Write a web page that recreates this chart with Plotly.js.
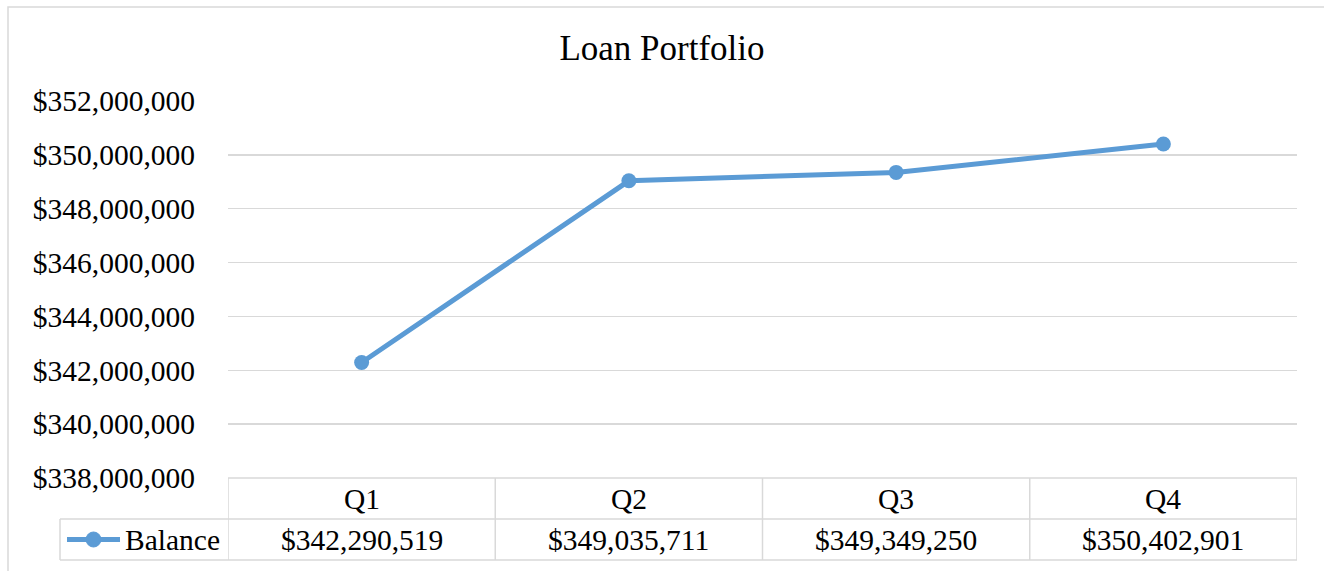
<!DOCTYPE html>
<html>
<head>
<meta charset="utf-8">
<script src="https://cdn.plot.ly/plotly-3.0.1.min.js"></script>
<style>html,body{margin:0;padding:0;background:#fff;}#chart{width:1324px;height:571px;}</style>
</head>
<body>
<div id="chart"></div>
<script>
const chartTitle = "Loan Portfolio";
const seriesName = "Balance";
const quarters = ["Q1", "Q2", "Q3", "Q4"];
const balance = [342290519, 349035711, 349349250, 350402901];
const yRange = [338000000, 352000000];
const yStep = 2000000;

const W = 1324, H = 571;
const M = {l: 228, r: 27, t: 101, b: 93};
const PW = W - M.l - M.r, PH = H - M.t - M.b;
const px = x => (x - M.l) / PW;
const py = y => 1 - (y - M.t) / PH;

const FONT = "Liberation Serif, Times New Roman, serif";
const FS = 29.5;
const BLUE = "#5b9bd5";
const GRID = "#d9d9d9";
const fmt = v => "$" + v.toLocaleString("en-US");

const shapes = [];
const annotations = [];
// chart border (extends off-canvas on right/bottom like the reference)
shapes.push({type: "rect", xref: "paper", yref: "paper", x0: px(8), x1: px(1340), y0: py(7), y1: py(590),
  line: {color: GRID, width: 1.5}, fillcolor: "rgba(0,0,0,0)", layer: "below"});

// data table
const rowTop = 478, rowMid = 519, rowBot = 560, legLeft = 60;
const n = quarters.length;
const lineStyle = {color: GRID, width: 1.5};
shapes.push({type: "line", xref: "x", yref: "paper", x0: -0.5, x1: n - 0.5, y0: py(rowTop), y1: py(rowTop), line: lineStyle});
shapes.push({type: "line", xref: "paper", yref: "paper", x0: px(legLeft), x1: 1, y0: py(rowMid), y1: py(rowMid), line: lineStyle});
shapes.push({type: "line", xref: "paper", yref: "paper", x0: px(legLeft), x1: 1, y0: py(rowBot), y1: py(rowBot), line: lineStyle});
for (let i = 0; i <= n; i++) {
  shapes.push({type: "line", xref: "x", yref: "paper", x0: i - 0.5, x1: i - 0.5, y0: py(rowTop), y1: py(rowBot), line: lineStyle});
}
shapes.push({type: "line", xref: "paper", yref: "paper", x0: px(legLeft), x1: px(legLeft), y0: py(rowMid), y1: py(rowBot), line: lineStyle});
// legend key
const keyY = (rowMid + rowBot) / 2;
shapes.push({type: "line", xref: "paper", yref: "paper", x0: px(67), x1: px(120), y0: py(keyY), y1: py(keyY), line: {color: BLUE, width: 5}});
shapes.push({type: "circle", xref: "paper", yref: "paper", x0: px(86), x1: px(101), y0: py(keyY - 7.5), y1: py(keyY + 7.5), line: {color: BLUE, width: 1}, fillcolor: BLUE});
annotations.push({xref: "paper", yref: "paper", x: px(123), y: py(keyY), xanchor: "left", yanchor: "middle", text: seriesName, showarrow: false, font: {family: FONT, size: FS, color: "#000"}});

for (let i = 0; i < n; i++) {
  annotations.push({xref: "x", yref: "paper", x: i, y: py((rowTop + rowMid) / 2), xanchor: "center", yanchor: "middle", text: quarters[i], showarrow: false, font: {family: FONT, size: FS, color: "#000"}});
  annotations.push({xref: "x", yref: "paper", x: i, y: py(keyY), xanchor: "center", yanchor: "middle", text: fmt(balance[i]), showarrow: false, font: {family: FONT, size: FS, color: "#000"}});
}

const trace = {
  type: "scatter", mode: "lines+markers", name: seriesName,
  x: quarters, y: balance,
  line: {color: BLUE, width: 5},
  marker: {color: BLUE, size: 15},
  cliponaxis: false, hoverinfo: "skip"
};

const layout = {
  width: W, height: H,
  margin: M,
  paper_bgcolor: "#fff", plot_bgcolor: "#fff",
  showlegend: false,
  title: {text: chartTitle, x: 0.5, xanchor: "center", y: 1 - 48 / H, yanchor: "middle", font: {family: FONT, size: 35, color: "#000"}},
  xaxis: {type: "category", range: [-0.5, n - 0.5], showgrid: false, zeroline: false, showline: false, showticklabels: false, ticks: ""},
  yaxis: {range: yRange, dtick: yStep, tick0: yRange[0], tickformat: "$,.0f", showgrid: true, gridcolor: GRID, gridwidth: 1.5,
    zeroline: false, showline: false, ticks: "", ticklabelstandoff: 32, tickfont: {family: FONT, size: FS, color: "#000"}},
  shapes: shapes,
  annotations: annotations
};

Plotly.newPlot("chart", [trace], layout, {staticPlot: true, displayModeBar: false});
</script>
</body>
</html>
